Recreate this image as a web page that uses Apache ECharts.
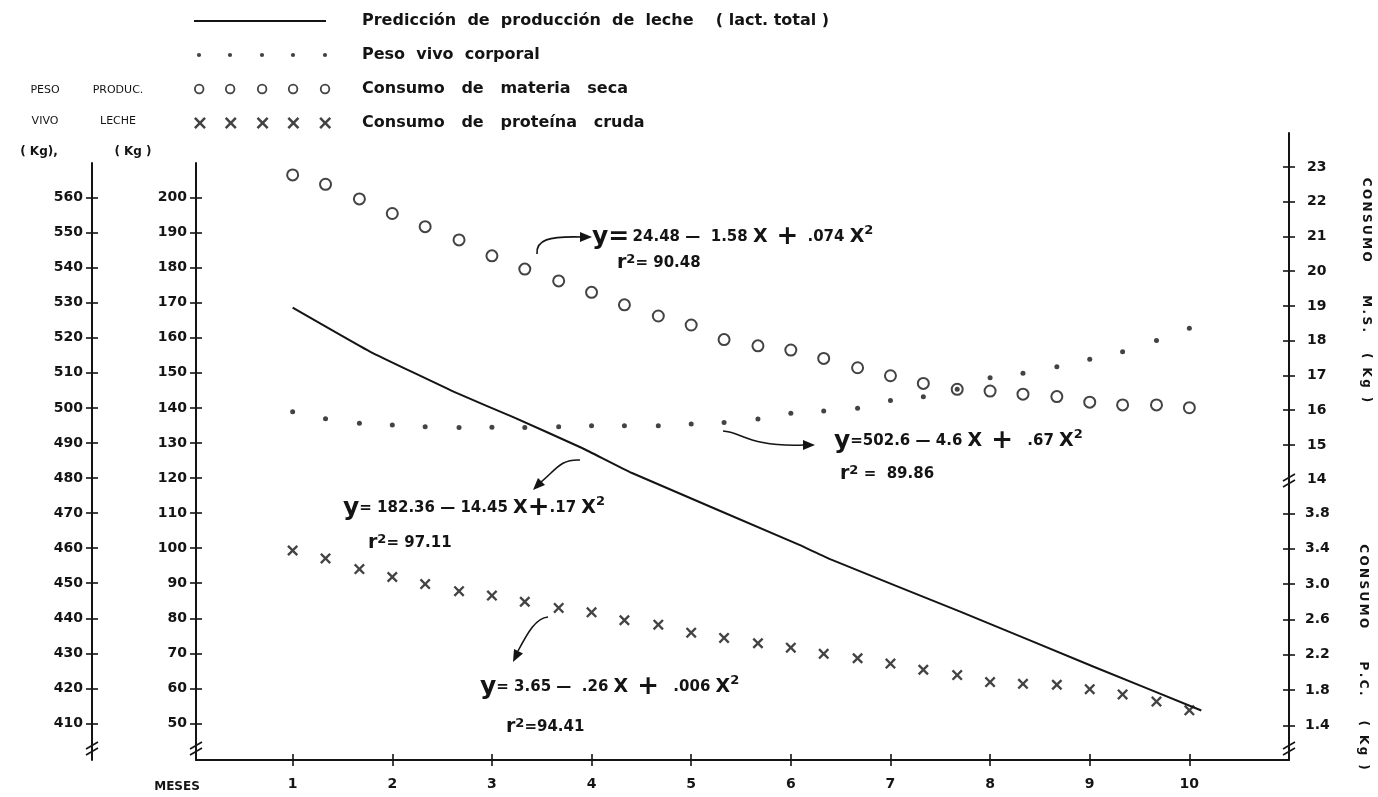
<!DOCTYPE html>
<html><head><meta charset="utf-8">
<script src="https://cdn.jsdelivr.net/npm/echarts@6/dist/echarts.min.js"></script>
<style>html,body{margin:0;padding:0;background:#fff}#c{width:1378px;height:797px}</style>
</head><body><div id="c"></div>
<script>
// ---------- data ----------
const months = [1,1.33,1.67,2,2.33,2.67,3,3.33,3.67,4,4.33,4.67,5,5.33,5.67,6,6.33,6.67,7,7.33,7.67,8,8.33,8.67,9,9.33,9.67,10];
const pesoVivo = [498.9,496.9,495.6,495.1,494.6,494.4,494.5,494.4,494.6,494.9,494.9,494.9,495.4,495.8,496.8,498.5,499.1,499.9,502.1,503.2,505.3,508.6,509.9,511.7,513.9,516.0,519.2,522.7];
const consumoMS = [22.77,22.50,22.08,21.66,21.28,20.90,20.44,20.06,19.72,19.39,19.03,18.71,18.45,18.03,17.85,17.73,17.49,17.22,16.99,16.77,16.60,16.55,16.46,16.39,16.23,16.15,16.15,16.07];
const consumoPC = [3.38,3.29,3.17,3.08,3.00,2.92,2.87,2.80,2.73,2.68,2.59,2.54,2.45,2.39,2.33,2.28,2.21,2.16,2.10,2.03,1.97,1.89,1.87,1.86,1.81,1.75,1.67,1.57];
const lecheMeses = [1,1.78,2.65,3.22,3.91,4.40,6.08,6.40,7.70,9.04,10.12];
const lecheValores = [168.6,156.0,144.2,137.3,128.5,121.5,101.0,96.8,81.9,66.2,53.7];

const xTicks = [1,2,3,4,5,6,7,8,9,10];
const pesoTicks = [410,420,430,440,450,460,470,480,490,500,510,520,530,540,550,560];
const lecheTicks = [50,60,70,80,90,100,110,120,130,140,150,160,170,180,190,200];
const msTicks = [15,16,17,18,19,20,21,22,23];
const msLabels = [14,15,16,17,18,19,20,21,22,23];
const pcTicks = [1.4,1.8,2.2,2.6,3.0,3.4,3.8];

const seriesNames = [
  'Predicción  de  producción  de  leche    ( lact. total )',
  'Peso  vivo  corporal',
  'Consumo   de   materia   seca',
  'Consumo   de   proteína   cruda'
];

// ---------- styling ----------
const INK = '#141414';
const FONT = '"DejaVu Sans", sans-serif';
const lab = (size, extra) => Object.assign({color: INK, fontFamily: FONT, fontWeight: 'bold', fontSize: size}, extra || {});
const spaced = s => s.split('').join('\u2009');

const zip = (a, b) => a.map((v, i) => [v, b[i]]);

// legend icon paths (163 x 14 box)
const bbox = 'M0,0 L0.01,0 L0,0.01 Z M163,14 L162.99,14 L163,13.99 Z ';
const iconX = [5, 36, 68, 99, 131];
const circ = (cx, cy, r, rev) => `M${cx - r},${cy} a${r},${r} 0 1,${rev ? 1 : 0} ${2 * r},0 a${r},${r} 0 1,${rev ? 1 : 0} ${-2 * r},0 Z `;
const crossPts = [[1.5,0],[5,3.5],[8.5,0],[10,1.5],[6.5,5],[10,8.5],[8.5,10],[5,6.5],[1.5,10],[0,8.5],[3.5,5],[0,1.5]];
const crossAt = (cx, cy, s) => 'M' + crossPts.map(p => `${cx - 5 * s + p[0] * s},${cy - 5 * s + p[1] * s}`).join(' L') + ' Z ';
const iconLine = 'path://' + bbox + 'M0,6 L132,6 L132,8 L0,8 Z';
const iconDots = 'path://' + bbox + iconX.map(x => circ(x, 7, 2.1)).join('');
const iconRings = 'path://' + bbox + iconX.map(x => circ(x, 7, 5.2) + circ(x, 7, 3.4, true)).join('');
const iconCross = 'path://' + bbox + iconX.map(x => crossAt(x, 7, 1.2)).join('');
const crossSymbol = 'path://M1.5,0 L5,3.5 L8.5,0 L10,1.5 L6.5,5 L10,8.5 L8.5,10 L5,6.5 L1.5,10 L0,8.5 L3.5,5 L0,1.5 Z';

// axis helpers
function mainAxis(base, ticks, labels, margin, fmt) {
  return Object.assign({
    type: 'value', splitLine: {show: false},
    axisLine: {show: true, lineStyle: {color: INK, width: 2}},
    axisTick: {show: true, customValues: ticks, length: 6, lineStyle: {color: INK, width: 1.6}},
    axisLabel: {show: true, customValues: labels, margin: margin, formatter: fmt || (v => String(v)), ...lab(14)}
  }, base);
}
function innerTicks(base, ticks) {
  return Object.assign({
    type: 'value', splitLine: {show: false},
    axisLine: {show: false},
    axisTick: {show: true, inside: true, customValues: ticks, length: 6, lineStyle: {color: INK, width: 1.6}},
    axisLabel: {show: false}
  }, base);
}

// graphic annotations
const T = (x, y, text, style, extra) => Object.assign({type: 'text', x: x, y: y, silent: true,
  style: Object.assign({text: text, fill: INK, font: 'bold 11px ' + FONT, align: 'center', verticalAlign: 'middle'}, style || {})}, extra || {});
const richEq = {
  y: {fontFamily: FONT, fontWeight: 'bold', fontSize: 25, color: INK},
  n: {fontFamily: FONT, fontWeight: 'bold', fontSize: 15, color: INK},
  X: {fontFamily: FONT, fontWeight: 'bold', fontSize: 19, color: INK},
  p: {fontFamily: FONT, fontWeight: 'bold', fontSize: 26, color: INK},
  s: {fontFamily: FONT, fontWeight: 'bold', fontSize: 13, color: INK, verticalAlign: 'top'},
  r: {fontFamily: FONT, fontWeight: 'bold', fontSize: 19, color: INK}
};
const EQ = (x, y, text) => ({type: 'text', x: x, y: y, silent: true,
  style: {text: text, rich: richEq, align: 'left', verticalAlign: 'middle', fill: INK}});
const curve = (x1, y1, c1x, c1y, c2x, c2y, x2, y2) => ({type: 'bezierCurve', silent: true,
  shape: {x1, y1, cpx1: c1x, cpy1: c1y, cpx2: c2x, cpy2: c2y, x2, y2},
  style: {stroke: INK, lineWidth: 1.6, fill: null}});
const head = pts => ({type: 'polygon', silent: true, shape: {points: pts}, style: {fill: INK}});
const seg = (x1, y1, x2, y2) => ({type: 'line', silent: true, shape: {x1, y1, x2, y2}, style: {stroke: INK, lineWidth: 1.6}});
const brk = (x, y) => [seg(x - 6, y + 1, x + 6, y - 6), seg(x - 6, y + 7, x + 6, y)];

const XMIN = 0.03, XMAX = 11;

const option = {
  backgroundColor: '#ffffff',
  animation: false,
  grid: [
    {left: 196, right: 89, top: 133, bottom: 37},
    {left: 196, right: 89, top: 163, bottom: 37}
  ],
  legend: {
    orient: 'vertical', left: 194, top: 13, padding: 0,
    itemWidth: 163, itemHeight: 14, itemGap: 18, selectedMode: false,
    textStyle: lab(16),
    data: [
      {name: seriesNames[0], icon: iconLine, itemStyle: {color: INK, borderWidth: 0}},
      {name: seriesNames[1], icon: iconDots, itemStyle: {color: INK, borderWidth: 0}},
      {name: seriesNames[2], icon: iconRings, itemStyle: {color: INK, borderWidth: 0}},
      {name: seriesNames[3], icon: iconCross, itemStyle: {color: INK, borderWidth: 0}}
    ]
  },
  xAxis: [
    mainAxis({gridIndex: 0, position: 'bottom', min: XMIN, max: XMAX}, xTicks, xTicks, 17),
    innerTicks({gridIndex: 0, position: 'bottom', min: XMIN, max: XMAX}, xTicks),
    {gridIndex: 1, type: 'value', min: XMIN, max: XMAX, show: false}
  ],
  yAxis: [
    mainAxis({gridIndex: 0, position: 'right', min: 5.932, max: 23.976}, msTicks, msLabels, 18),
    innerTicks({gridIndex: 0, position: 'right', min: 5.932, max: 23.976}, msTicks),
    Object.assign(mainAxis({gridIndex: 0, position: 'right', min: 1.008, max: 8.107}, pcTicks, pcTicks, 16, v => v.toFixed(1)), {axisLine: {show: false}}),
    innerTicks({gridIndex: 0, position: 'right', min: 1.008, max: 8.107}, pcTicks),
    mainAxis({gridIndex: 1, position: 'left', offset: 0, min: 39.6, max: 209.83}, lecheTicks, lecheTicks, 9),
    innerTicks({gridIndex: 1, position: 'left', offset: 0, min: 39.6, max: 209.83}, lecheTicks),
    mainAxis({gridIndex: 1, position: 'left', offset: 104, min: 399.6, max: 569.83}, pesoTicks, pesoTicks, 9),
    innerTicks({gridIndex: 1, position: 'left', offset: 104, min: 399.6, max: 569.83}, pesoTicks)
  ],
  series: [
    {name: seriesNames[0], type: 'line', xAxisIndex: 2, yAxisIndex: 4, data: zip(lecheMeses, lecheValores),
     symbol: 'none', smooth: 0.1, lineStyle: {color: INK, width: 2}, itemStyle: {color: INK}, z: 2},
    {name: seriesNames[2], type: 'scatter', xAxisIndex: 0, yAxisIndex: 0, data: zip(months, consumoMS),
     symbol: 'emptyCircle', symbolSize: 11, itemStyle: {color: INK, borderColor: INK, borderWidth: 2}, z: 3},
    {name: seriesNames[3], type: 'scatter', xAxisIndex: 0, yAxisIndex: 2, data: zip(months, consumoPC),
     symbol: crossSymbol, symbolSize: 11, itemStyle: {color: INK}, z: 3},
    {name: seriesNames[1], type: 'scatter', xAxisIndex: 2, yAxisIndex: 6, data: zip(months, pesoVivo),
     symbol: 'circle', symbolSize: 5, itemStyle: {color: INK}, z: 4}
  ],
  graphic: [
    T(45, 90, 'PESO', {font: '11px ' + FONT}),
    T(45, 121, 'VIVO', {font: '11px ' + FONT}),
    T(118, 90, 'PRODUC.', {font: '11px ' + FONT}),
    T(118, 121, 'LECHE', {font: '11px ' + FONT}),
    T(39, 152, '( Kg),', {font: 'bold 12px ' + FONT}),
    T(133, 152, '( Kg )', {font: 'bold 12px ' + FONT}),
    T(177, 787, 'MESES', {font: 'bold 12px ' + FONT}),
    T(1366, 290, spaced('CONSUMO') + '        ' + spaced('M.S.') + '     ' + spaced('( Kg )'), {font: 'bold 12px ' + FONT}, {rotation: -Math.PI / 2}),
    T(1363, 657, spaced('CONSUMO') + '        ' + spaced('P.C.') + '      ' + spaced('( Kg )'), {font: 'bold 12px ' + FONT}, {rotation: -Math.PI / 2}),
    // equations
    EQ(592, 237, '{y|y=} {n|24.48 —  1.58 }{X|X}{p| + }{n|.074 }{X|X}{s|2}'),
    EQ(617, 263, '{r|r}{s|2}{n|= 90.48}'),
    EQ(834, 441, '{y|y}{n|=502.6 — 4.6 }{X|X}{p| + }{n| .67 }{X|X}{s|2}'),
    EQ(840, 474, '{r|r}{s|2}{n| =  89.86}'),
    EQ(343, 508, '{y|y}{n|= 182.36 — 14.45 }{X|X}{p|+}{n|.17 }{X|X}{s|2}'),
    EQ(368, 543, '{r|r}{s|2}{n|= 97.11}'),
    EQ(480, 687, '{y|y}{n|= 3.65 —  .26 }{X|X}{p| + }{n| .006 }{X|X}{s|2}'),
    EQ(506, 727, '{r|r}{s|2}{n|=94.41}'),
    // arrows
    curve(537, 254, 536, 240, 548, 236, 582, 237), head([[592, 237], [580, 232], [580, 242]]),
    curve(723, 431, 742, 432, 748, 447, 804, 445), head([[815, 445], [803, 440], [803, 450]]),
    curve(580, 460, 560, 459, 556, 470, 541, 482), head([[533, 490], [545, 485], [538, 478]]),
    curve(548, 617, 536, 618, 528, 632, 518, 651), head([[513, 662], [523, 653.5], [514, 649]]),
    // axis breaks
    ...brk(92, 748), ...brk(196, 748), ...brk(1289, 480), ...brk(1289, 748)
  ]
};

const chart = echarts.init(document.getElementById('c'), null, {renderer: 'canvas'});
chart.setOption(option);
</script></body></html>
